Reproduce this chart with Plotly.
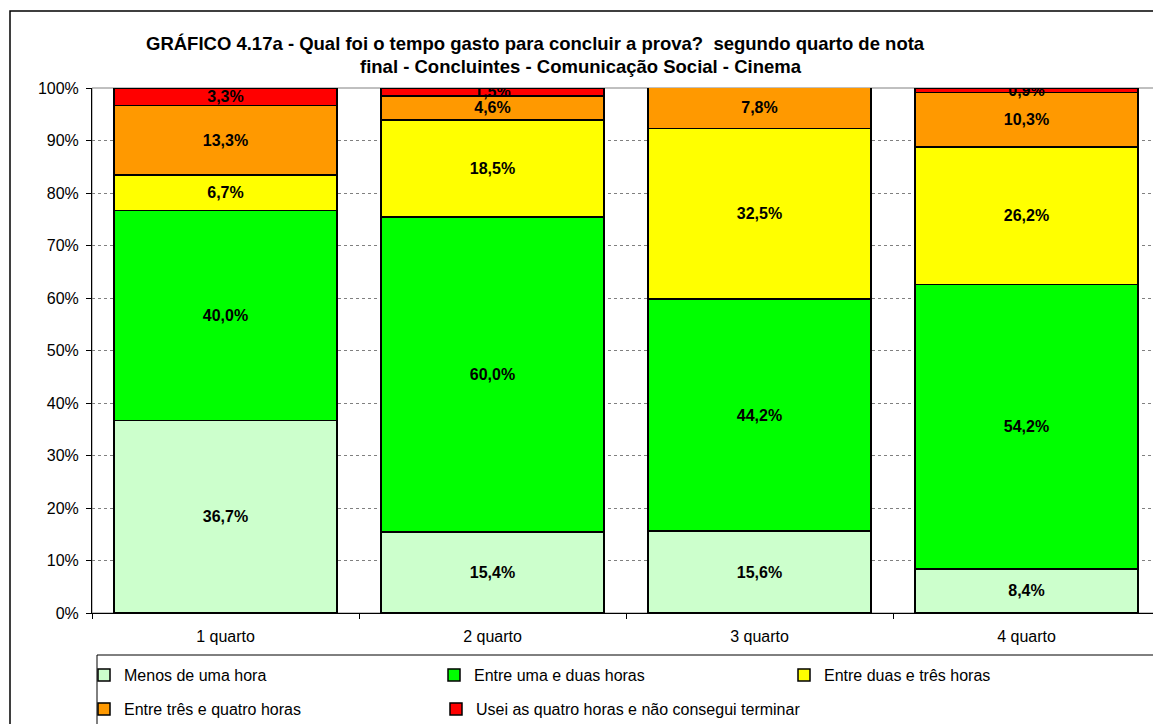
import plotly.graph_objects as go

categories = ["1 quarto", "2 quarto", "3 quarto", "4 quarto"]
series_names = [
    "Menos de uma hora",
    "Entre uma e duas horas",
    "Entre duas e três horas",
    "Entre três e quatro horas",
    "Usei as quatro horas e não consegui terminar",
]
menos_uma = [36.7, 15.4, 15.6, 8.4]
uma_duas = [40.0, 60.0, 44.2, 54.2]
duas_tres = [6.7, 18.5, 32.5, 26.2]
tres_quatro = [13.3, 4.6, 7.8, 10.3]
quatro_nao = [3.3, 1.5, 0.0, 0.9]
colors = ["#CCFFCC", "#00FF00", "#FFFF00", "#FF9900", "#FF0000"]
y_ticks = [0, 10, 20, 30, 40, 50, 60, 70, 80, 90, 100]
title_l1 = "GRÁFICO 4.17a - Qual foi o tempo gasto para concluir a prova?  segundo quarto de nota"
title_l2 = "final - Concluintes - Comunicação Social - Cinema"

all_series = [menos_uma, uma_duas, duas_tres, tres_quatro, quatro_nao]
legend_ids = ["legend", "legend", "legend", "legend2", "legend3"]

OFF = 8  # page body margin
W, H = 1161 - OFF, 724 - OFF
L, R, T, B = 92 - OFF, 1, 88 - OFF, 111
pw, ph = W - L - R, H - T - B

def px(x):
    return (x - OFF - L) / pw

def py(y):
    return (H - B - (y - OFF)) / ph

fig = go.Figure()
for i, (name, vals) in enumerate(zip(series_names, all_series)):
    txt = [("" if v == 0 else f"{v:.1f}%".replace(".", ",")) for v in vals]
    fig.add_trace(go.Bar(
        x=categories, y=vals, name=name,
        marker=dict(color=colors[i], line=dict(color="black", width=1.5)),
        text=txt, textposition="inside", insidetextanchor="middle",
        textangle=0, constraintext="none",
        textfont=dict(family="Arial, Liberation Sans", size=16, color="black", weight="bold"),
        hoverinfo="skip",
        legend=legend_ids[i],
    ))

leg_common = dict(orientation="h", xref="container", yref="container",
                  xanchor="left", yanchor="middle",
                  font=dict(size=16), bgcolor="rgba(0,0,0,0)", traceorder="normal")

fig.update_layout(
    barmode="stack", bargap=0.165,
    width=W, height=H,
    margin=dict(l=L, r=R, t=T, b=B, autoexpand=False),
    paper_bgcolor="white", plot_bgcolor="white",
    font=dict(family="Arial, Liberation Sans", size=16, color="black"),
    uniformtext=dict(minsize=16, mode="show"),
    showlegend=True,
    legend=dict(x=(84 - OFF) / W, y=1 - (675 - OFF) / H,
                entrywidth=305, entrywidthmode="pixels", **leg_common),
    legend2=dict(x=(84 - OFF) / W, y=1 - (709 - OFF) / H, **leg_common),
    legend3=dict(x=(436 - OFF) / W, y=1 - (709 - OFF) / H, **leg_common),
    xaxis=dict(type="category", showline=True, linecolor="black", linewidth=1,
               ticks="outside", tickson="boundaries", ticklen=5, tickcolor="black",
               ticklabelstandoff=9,
               tickfont=dict(size=16), showgrid=False, fixedrange=True, automargin=False),
    yaxis=dict(range=[0, 100], tickvals=y_ticks,
               ticktext=[f"{v}%" for v in y_ticks],
               showline=True, linecolor="black", linewidth=1,
               ticks="outside", ticklen=5, tickcolor="black",
               ticklabelstandoff=4,
               showgrid=True, gridcolor="#808080", griddash="dot", gridwidth=1,
               tickfont=dict(size=16), zeroline=False, fixedrange=True, automargin=False),
)

shapes = [
    dict(type="rect", xref="paper", yref="paper", x0=0, x1=1, y0=0, y1=1,
         line=dict(color="#808080", width=1), layer="below"),
    dict(type="rect", xref="paper", yref="paper", x0=px(10), x1=px(1175), y0=py(11), y1=py(740),
         line=dict(color="black", width=1.5), layer="below"),
    dict(type="rect", xref="paper", yref="paper", x0=px(97), x1=px(1156), y0=py(655), y1=py(740),
         line=dict(color="black", width=1), layer="below"),
]
fig.update_layout(shapes=shapes)

fig.add_annotation(text=f"<b>{title_l1}</b>", xref="paper", yref="paper",
                   x=px(535), y=py(43), xanchor="center", yanchor="middle",
                   showarrow=False, font=dict(size=18.5, color="black"))
fig.add_annotation(text=f"<b>{title_l2}</b>", xref="paper", yref="paper",
                   x=px(581), y=py(66), xanchor="center", yanchor="middle",
                   showarrow=False, font=dict(size=18.5, color="black"))

fig.write_html("out.html")
